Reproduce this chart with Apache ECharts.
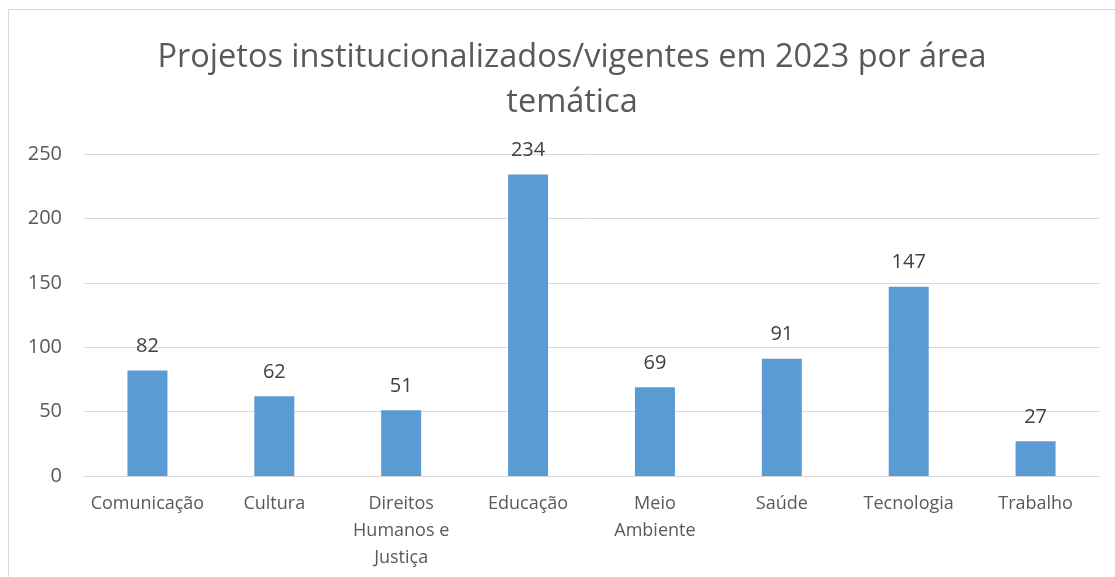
<!DOCTYPE html>
<html>
<head>
<meta charset="utf-8">
<script src="https://cdn.jsdelivr.net/npm/echarts@6/dist/echarts.min.js"></script>
<style>
  html, body { margin: 0; padding: 0; background: #fff; }
  #chart { width: 1115px; height: 577px; }
</style>
</head>
<body>
<div id="chart"></div>
<script>
// dados
const categorias = ['Comunicação', 'Cultura', 'Direitos\nHumanos e\nJustiça', 'Educação', 'Meio\nAmbiente', 'Saúde', 'Tecnologia', 'Trabalho']
const projetos = [82, 62, 51, 234, 69, 91, 147, 27]
const yTicks = [0, 50, 100, 150, 200, 250]

const chart = echarts.init(document.getElementById('chart'))
chart.setOption({
  backgroundColor: '#fff',
  animation: false,
  textStyle: { fontFamily: 'Open Sans' },
  title: {
    text: 'Projetos institucionalizados/vigentes em 2023 por área\ntemática',
    left: 567,
    textAlign: 'center',
    top: 30,
    textStyle: {
      color: '#595959',
      fontSize: 32.5,
      fontWeight: 'normal',
      lineHeight: 45
    }
  },
  graphic: [{
    type: 'rect',
    shape: { x: 8.5, y: 9.5, width: 1130, height: 600 },
    style: { fill: 'none', stroke: '#d9d9d9', lineWidth: 1 },
    silent: true
  }],
  grid: { left: 84, right: 16, top: 154, bottom: 101, containLabel: false },
  xAxis: {
    type: 'category',
    data: categorias,
    axisTick: { show: false },
    axisLine: { show: true, lineStyle: { color: '#d9d9d9', width: 1 } },
    axisLabel: {
      color: '#595959',
      fontSize: 18,
      lineHeight: 27,
      margin: 14,
      interval: 0
    }
  },
  yAxis: {
    type: 'value',
    min: yTicks[0],
    max: yTicks[yTicks.length - 1],
    interval: 50,
    axisLine: { show: false },
    axisTick: { show: false },
    axisLabel: { color: '#595959', fontSize: 20, margin: 22 },
    splitLine: { lineStyle: { color: '#d9d9d9', width: 1 } }
  },
  series: [{
    name: 'Projetos',
    type: 'bar',
    data: projetos,
    barWidth: 40,
    itemStyle: { color: '#5b9bd5' },
    label: {
      show: true,
      position: 'top',
      distance: 14,
      color: '#404040',
      fontSize: 20
    }
  }]
})
</script>
</body>
</html>
